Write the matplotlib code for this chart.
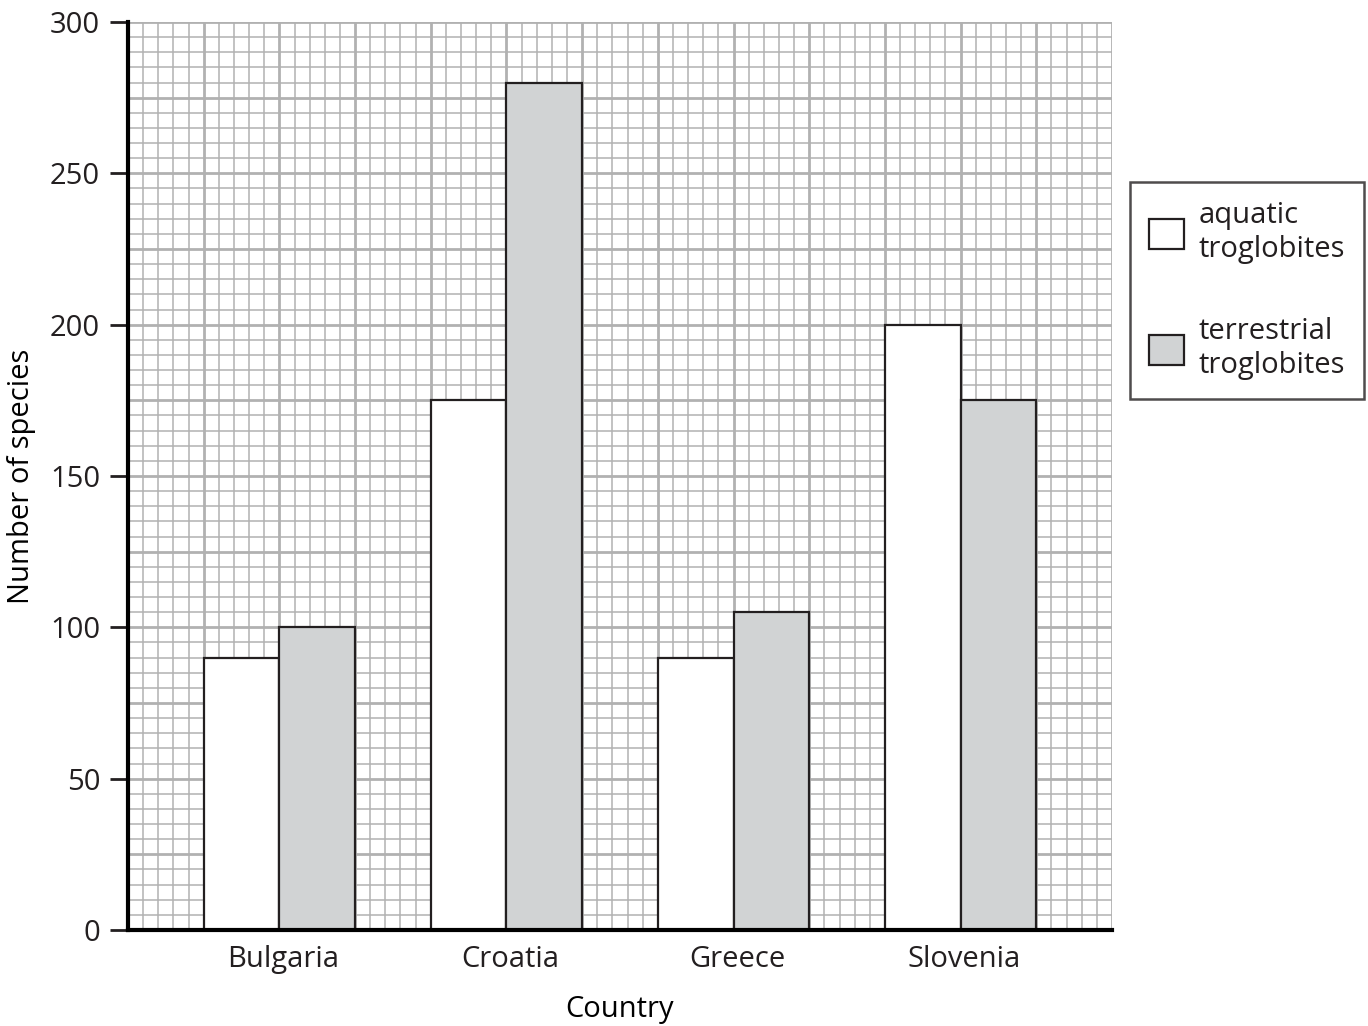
import matplotlib
matplotlib.use("Agg")
import matplotlib.pyplot as plt
import numpy as np
from matplotlib.patches import Patch

# data
countries = ["Bulgaria", "Croatia", "Greece", "Slovenia"]
aquatic = [90, 175, 90, 200]
terrestrial = [100, 280, 105, 175]
series_labels = ["aquatic\ntroglobites", "terrestrial\ntroglobites"]
y_ticks = [0, 50, 100, 150, 200, 250, 300]

INK = "#231f20"
GRID = "#b1b1b1"
FILL_T = "#d1d3d4"

plt.rcParams.update({
    "font.family": ["Open Sans", "DejaVu Sans"],
    "font.size": 21,
    "text.color": INK,
})

fig = plt.figure(figsize=(13.68, 10.26), dpi=100)
ax = fig.add_axes([128 / 1368, 1 - 930 / 1026, (1112 - 128) / 1368, (930 - 22) / 1026])

# graph-paper grid: x in bar-width units (5 minor per unit), y minor 5 / major 25
for gx in np.arange(0, 13.01, 0.2):
    major = abs(gx - round(gx)) < 1e-6
    ax.axvline(gx, color=GRID, lw=2.0 if major else 1.1, zorder=0)
for gy in np.arange(0, 300.01, 5):
    major = gy % 25 == 0
    ax.axhline(gy, color=GRID, lw=2.0 if major else 1.1, zorder=0)

centers = np.array([2, 5, 8, 11])
ax.bar(centers - 0.5, aquatic, width=1.0, color="white", edgecolor=INK, linewidth=1.6, zorder=3)
ax.bar(centers + 0.5, terrestrial, width=1.0, color=FILL_T, edgecolor=INK, linewidth=1.6, zorder=3)

ax.set_xlim(0, 13)
ax.set_ylim(0, 300)
ax.set_yticks(y_ticks)
ax.set_xticks(centers + 0.05)
ax.set_xticklabels(countries)
ax.tick_params(axis="y", length=13, width=2, color=INK, pad=7, labelcolor=INK)
ax.tick_params(axis="x", length=0, pad=11, labelcolor=INK)

for side in ("top", "right"):
    ax.spines[side].set_visible(False)
for side in ("left", "bottom"):
    ax.spines[side].set_linewidth(3)
    ax.spines[side].set_color("black")
    ax.spines[side].set_zorder(5)

ax.set_ylabel("Number of species", labelpad=10)
ax.set_xlabel("Country", labelpad=15)

handles = [Patch(facecolor="white", edgecolor=INK, linewidth=1.6),
           Patch(facecolor=FILL_T, edgecolor=INK, linewidth=1.6)]
leg = fig.legend(handles, series_labels, loc="upper left",
                 bbox_to_anchor=(1130 / 1368, 1 - 182 / 1026),
                 borderaxespad=0, frameon=True, fancybox=False,
                 handlelength=1.2, handleheight=1.2, handletextpad=0.5,
                 labelspacing=1.8, borderpad=0.65, fontsize=21)
leg.get_frame().set_edgecolor(INK)
leg.get_frame().set_linewidth(1.8)
for t in leg.get_texts():
    t.set_linespacing(1.25)

fig.savefig("out.png", dpi=100)
